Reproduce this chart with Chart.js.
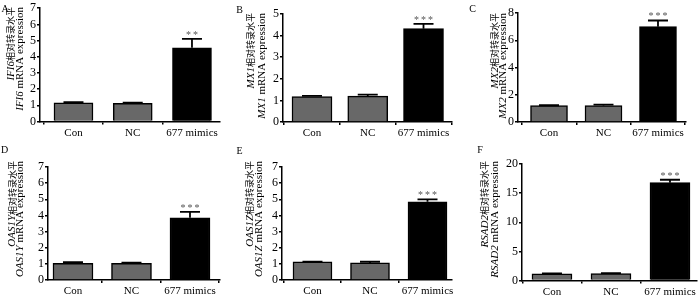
<!DOCTYPE html>
<html>
<head>
<meta charset="utf-8">
<script src="https://cdn.jsdelivr.net/npm/chart.js@4.4.0/dist/chart.umd.min.js"></script>
<style>
html, body { margin: 0; padding: 0; background: #fff; }
#wrap { position: relative; width: 700px; height: 296px; overflow: hidden; }
canvas { position: absolute; }
</style>
</head>
<body>
<div id="wrap"></div>
<script>
// data
var categories = ['Con', 'NC', '677 mimics'];
var genes = ['IFI6', 'MX1', 'MX2', 'OAS1Y', 'OAS1Z', 'RSAD2'];
var panelLetters = ['A', 'B', 'C', 'D', 'E', 'F'];

var ifi6Values = [1.15, 1.12, 4.55];
var ifi6Errors = [0.05, 0.05, 0.55];
var mx1Values = [1.18, 1.2, 4.32];
var mx1Errors = [0.03, 0.07, 0.22];
var mx2Values = [1.2, 1.2, 7.0];
var mx2Errors = [0.03, 0.07, 0.45];
var oas1yValues = [1.04, 1.04, 3.85];
var oas1yErrors = [0.07, 0.04, 0.37];
var oas1zValues = [1.12, 1.06, 4.85];
var oas1zErrors = [0.02, 0.07, 0.15];
var rsad2Values = [1.15, 1.2, 16.8];
var rsad2Errors = [0.05, 0.05, 0.5];

var stars = ['**', '***', '***', '***', '***', '***'];
var yMax = [7, 5, 8, 7, 7, 20];
var yStep = [1, 1, 2, 1, 1, 5];

var values = [ifi6Values, mx1Values, mx2Values, oas1yValues, oas1zValues, rsad2Values];
var errors = [ifi6Errors, mx1Errors, mx2Errors, oas1yErrors, oas1zErrors, rsad2Errors];

var serif = '"Liberation Serif", "Times New Roman", serif';
var cjk = '"Noto Sans CJK SC", sans-serif';

// page layout: canvas box [l, t, w, h], plot area [l, r, t, b]
var layouts = [
  { box: [0, 0, 230, 140], area: [40, 220, 5, 121.5], xr: [-0.565, 2.473], bw: 39, t1: 11, t2: 20, tTop: 7, lx: 5, ly: 9.5 },
  { box: [230, 0, 230, 140], area: [283, 452, 14, 122], xr: [-0.52, 2.511], bw: 40, t1: 251, t2: 262, tTop: 13, lx: 239.5, ly: 10 },
  { box: [460, 0, 240, 140], area: [518, 686, 13, 122], xr: [-0.569, 2.514], bw: 37, t1: 495, t2: 503.5, tTop: 13, lx: 472.5, ly: 9.5 },
  { box: [0, 140, 230, 156], area: [48, 220, 167, 280], xr: [-0.427, 2.513], bw: 40, t1: 12.5, t2: 20, tTop: 161, lx: 4.5, ly: 150 },
  { box: [230, 140, 230, 156], area: [282, 452, 167, 280], xr: [-0.53, 2.426], bw: 39, t1: 250, t2: 259, tTop: 161, lx: 239.5, ly: 151 },
  { box: [460, 140, 240, 156], area: [522, 697, 164, 280.5], xr: [-0.508, 2.458], bw: 40, t1: 485, t2: 495, tTop: 161, lx: 480, ly: 150 }
];

function drawRotated(ctx, parts, cx, top) {
  var total = 0;
  parts.forEach(function (p) { ctx.font = p.f; p.w = ctx.measureText(p.t).width; total += p.w; });
  ctx.save();
  ctx.translate(cx, top + total);
  ctx.rotate(-Math.PI / 2);
  ctx.textBaseline = 'middle';
  ctx.textAlign = 'left';
  var x = 0;
  parts.forEach(function (p) { ctx.font = p.f; ctx.fillText(p.t, x, 0); x += p.w; });
  ctx.restore();
}

var decorations = {
  id: 'decorations',
  afterDatasetsDraw: function (chart) {
    var o = chart.options.plugins.decorations;
    var ctx = chart.ctx;
    var ys = chart.scales.y;
    var bars = chart.getDatasetMeta(0).data;
    ctx.save();
    ctx.strokeStyle = '#000';
    ctx.lineWidth = 1.8;
    bars.forEach(function (bar, i) {
      var top = ys.getPixelForValue(o.values[i] + o.errors[i]);
      ctx.beginPath();
      ctx.moveTo(bar.x, bar.y);
      ctx.lineTo(bar.x, top);
      ctx.moveTo(bar.x - 10, top);
      ctx.lineTo(bar.x + 10, top);
      ctx.stroke();
    });
    // significance stars on the last bar
    var last = bars[bars.length - 1];
    var sTop = ys.getPixelForValue(o.values[2] + o.errors[2]);
    ctx.fillStyle = '#555';
    ctx.font = '10px ' + serif;
    ctx.textAlign = 'center';
    ctx.textBaseline = 'alphabetic';
    var n = o.stars.length;
    for (var k = 0; k < n; k++) {
      ctx.fillText('*', last.x + (k - (n - 1) / 2) * 7, sTop - 1);
    }
    ctx.restore();
  },
  afterDraw: function (chart) {
    var o = chart.options.plugins.decorations;
    var ctx = chart.ctx;
    ctx.save();
    ctx.fillStyle = '#000';
    drawRotated(ctx, [
      { t: o.gene, f: 'italic 11px ' + serif },
      { t: '相对转录水平', f: '9px ' + cjk }
    ], o.t1, o.tTop);
    drawRotated(ctx, [
      { t: o.gene, f: 'italic 11px ' + serif },
      { t: ' mRNA expression', f: '11px ' + serif }
    ], o.t2, o.tTop);
    ctx.font = '10px ' + serif;
    ctx.textAlign = 'center';
    ctx.textBaseline = 'middle';
    ctx.fillText(o.letter, o.lx, o.ly);
    ctx.restore();
  }
};

var wrap = document.getElementById('wrap');
var axisLine = { color: '#000', width: 1.5 };
var tickGrid = { drawOnChartArea: false, tickLength: 3, color: '#000', lineWidth: 1.5 };

layouts.forEach(function (L, i) {
  var bx = L.box[0], by = L.box[1], bw = L.box[2], bh = L.box[3];
  var xHeight = by + bh - L.area[3];
  var canvas = document.createElement('canvas');
  canvas.width = bw;
  canvas.height = bh;
  canvas.style.left = bx + 'px';
  canvas.style.top = by + 'px';
  wrap.appendChild(canvas);

  new Chart(canvas, {
    type: 'bar',
    data: {
      datasets: [{
        data: values[i].map(function (v, j) { return { x: j, y: v }; }),
        backgroundColor: ['#686868', '#686868', '#000000'],
        borderColor: '#000',
        borderWidth: 1.5,
        barThickness: L.bw
      }]
    },
    options: {
      responsive: false,
      animation: false,
      layout: {
        autoPadding: false,
        padding: {
          left: L.area[0] - bx - 20,
          right: bx + bw - L.area[1],
          top: L.area[2] - by,
          bottom: 0
        }
      },
      plugins: {
        legend: { display: false },
        tooltip: { enabled: false },
        decorations: {
          values: values[i], errors: errors[i], stars: stars[i], gene: genes[i], letter: panelLetters[i],
          t1: L.t1 - bx, t2: L.t2 - bx, tTop: L.tTop - by, lx: L.lx - bx, ly: L.ly - by
        }
      },
      scales: {
        x: {
          type: 'linear',
          min: L.xr[0],
          max: L.xr[1],
          offset: false,
          afterFit: function (s) { s.height = xHeight; },
          afterBuildTicks: function (s) { s.ticks = [0, 1, 2].map(function (v) { return { value: v }; }); },
          ticks: {
            callback: function (v) { return categories[v]; },
            color: '#000', font: { family: serif, size: 11 }, padding: 2, maxRotation: 0, autoSkip: false
          },
          grid: tickGrid,
          border: axisLine
        },
        y: {
          min: 0,
          max: yMax[i],
          afterFit: function (s) { s.width = 20; },
          ticks: { stepSize: yStep[i], autoSkip: false, color: '#000', font: { family: serif, size: 12 }, padding: 1 },
          grid: tickGrid,
          border: axisLine
        }
      }
    },
    plugins: [decorations]
  });
});
</script>
</body>
</html>
